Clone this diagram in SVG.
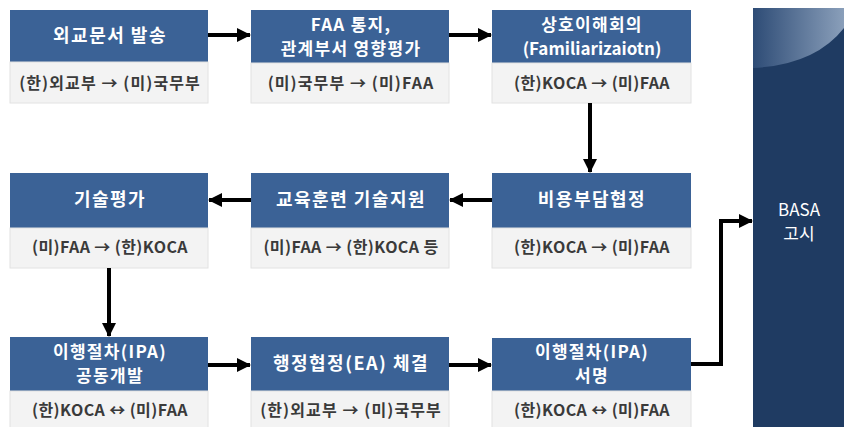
<svg xmlns="http://www.w3.org/2000/svg" width="844" height="427" viewBox="0 0 844 427">
<style>
.hd{fill:#3b6296}
.sb{fill:#f3f3f3;stroke:#e2e2e2;stroke-width:1}
.ht{font-family:"Noto Sans CJK KR","Noto Sans",sans-serif;font-weight:bold;font-size:18px;letter-spacing:1.5px;fill:#ffffff;text-anchor:middle}
.h2{font-size:17px;letter-spacing:1.3px}
.st{font-family:"Noto Sans CJK KR","Noto Sans",sans-serif;font-weight:bold;font-size:16px;letter-spacing:1.1px;fill:#3a3a3a;text-anchor:middle}
.lt{letter-spacing:0.4px}
.l0{letter-spacing:0px}
.bt{font-family:"Noto Sans CJK KR","Noto Sans",sans-serif;font-size:17px;fill:#ffffff;text-anchor:middle}
.cn{fill:none;stroke:#000;stroke-width:4}
</style>
<defs>
<marker id="ah" markerUnits="userSpaceOnUse" markerWidth="14" markerHeight="14" refX="13" refY="7" orient="auto">
<path d="M0,0 L14,7 L0,14 Z" fill="#000"/>
</marker>
<linearGradient id="gl" x1="0" y1="0" x2="1" y2="0">
<stop offset="0" stop-color="#2e4c76"/>
<stop offset="1" stop-color="#8a9fba"/>
</linearGradient>
</defs>
<rect width="844" height="427" fill="#ffffff"/>

<g id="n1"><rect class="hd" x="10" y="10" width="198" height="52"/><rect class="sb" x="10" y="62" width="198" height="41"/><text class="ht" x="110" y="42">외교문서 발송</text><text class="st" x="110" y="89">(한)외교부 → (미)국무부</text></g>
<g id="n2"><rect class="hd" x="251" y="10" width="198" height="53"/><rect class="sb" x="251" y="63" width="198" height="40"/><text class="ht h2" x="351" y="31">FAA 통지,</text><text class="ht h2" x="351" y="55">관계부서 영향평가</text><text class="st" x="351" y="89">(미)국무부 → (미)FAA</text></g>
<g id="n3"><rect class="hd" x="492" y="10" width="199" height="53"/><rect class="sb" x="492" y="63" width="199" height="40"/><text class="ht h2" x="592" y="31">상호이해회의</text><text class="ht h2 l0" x="592" y="55">(Familiarizaiotn)</text><text class="st lt" x="592" y="89">(한)KOCA → (미)FAA</text></g>

<g id="n4"><rect class="hd" x="10" y="173" width="198" height="55"/><rect class="sb" x="10" y="228" width="198" height="40"/><text class="ht" x="110" y="206">기술평가</text><text class="st lt" x="110" y="253">(미)FAA → (한)KOCA</text></g>
<g id="n5"><rect class="hd" x="251" y="173" width="198" height="55"/><rect class="sb" x="251" y="228" width="198" height="40"/><text class="ht" x="351" y="206">교육훈련 기술지원</text><text class="st lt" x="351" y="253">(미)FAA → (한)KOCA 등</text></g>
<g id="n6"><rect class="hd" x="492" y="173" width="199" height="55"/><rect class="sb" x="492" y="228" width="199" height="40"/><text class="ht" x="592" y="206">비용부담협정</text><text class="st lt" x="592" y="253">(한)KOCA → (미)FAA</text></g>

<g id="n7"><rect class="hd" x="10" y="337" width="198" height="54"/><rect class="sb" x="10" y="391" width="198" height="40"/><text class="ht h2" x="110" y="358">이행절차(IPA)</text><text class="ht h2" x="110" y="382">공동개발</text><text class="st lt" x="110" y="416">(한)KOCA ↔ (미)FAA</text></g>
<g id="n8"><rect class="hd" x="251" y="337" width="198" height="54"/><rect class="sb" x="251" y="391" width="198" height="40"/><text class="ht" x="351" y="370">행정협정(EA) 체결</text><text class="st" x="351" y="416">(한)외교부 → (미)국무부</text></g>
<g id="n9"><rect class="hd" x="492" y="338" width="199" height="53"/><rect class="sb" x="492" y="391" width="199" height="40"/><text class="ht h2" x="592" y="358">이행절차(IPA)</text><text class="ht h2" x="592" y="382">서명</text><text class="st lt" x="592" y="416">(한)KOCA ↔ (미)FAA</text></g>

<g id="basa"><rect x="753" y="8" width="91" height="419" fill="#1f3b62"/><path d="M753,8 L844,8 L844,28 Q815,65 753,68 Z" fill="url(#gl)"/><text class="bt" x="799" y="216">BASA</text><text class="bt" x="799" y="240">고시</text></g>

<g id="connectors">
<path class="cn" d="M208,35 L250,35" marker-end="url(#ah)"/>
<path class="cn" d="M449,35 L491,35" marker-end="url(#ah)"/>
<path class="cn" d="M590,103 L590,172" marker-end="url(#ah)"/>
<path class="cn" d="M492,200 L450,200" marker-end="url(#ah)"/>
<path class="cn" d="M251,200 L209,200" marker-end="url(#ah)"/>
<path class="cn" d="M109,268 L109,336" marker-end="url(#ah)"/>
<path class="cn" d="M208,365 L250,365" marker-end="url(#ah)"/>
<path class="cn" d="M449,365 L491,365" marker-end="url(#ah)"/>
<path class="cn" d="M691,364 L721,364 L721,221 L752,221" marker-end="url(#ah)"/>
</g>
</svg>
